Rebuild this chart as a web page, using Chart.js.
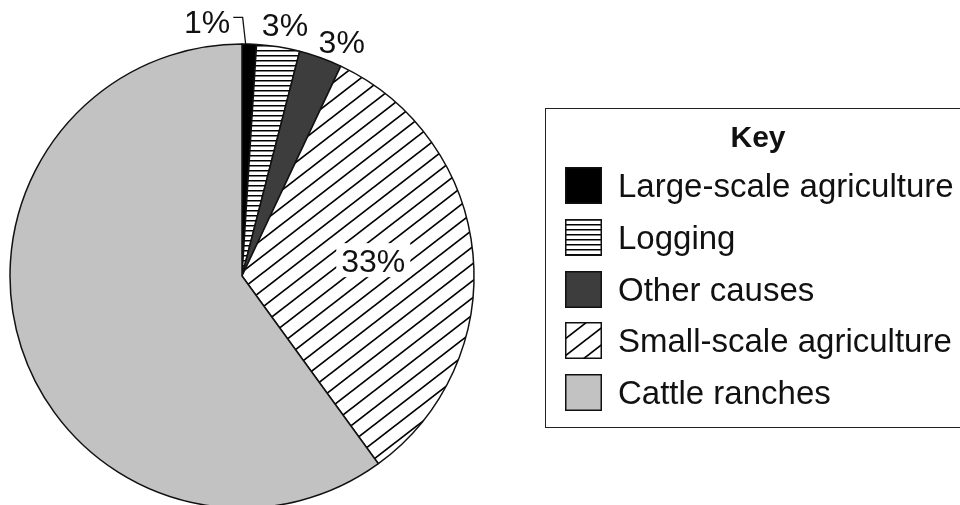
<!DOCTYPE html>
<html>
<head>
<meta charset="utf-8">
<script src="https://cdn.jsdelivr.net/npm/chart.js@4.4.1/dist/chart.umd.min.js"></script>
<style>
  html, body { margin: 0; padding: 0; background: #fff; overflow: hidden; }
  #wrap { position: relative; width: 960px; height: 505px; font-family: "Liberation Sans", Arial, sans-serif; color: #111; }
  #chart { position: absolute; left: 0; top: 0; }
  #key { position: absolute; left: 545px; top: 108px; width: 430px; height: 320px; border: 1.5px solid #222; box-sizing: border-box; }
  #key-title { position: absolute; left: 545px; top: 120px; width: 426px; text-align: center; font-weight: bold; font-size: 30px; line-height: 34px; }
  .row { position: absolute; left: 565px; height: 37px; white-space: nowrap; }
  .row canvas { position: absolute; left: 0; top: 0; }
  .row span { position: absolute; left: 53px; top: 0; font-size: 33px; line-height: 37px; }
</style>
</head>
<body>
<div id="wrap">
  <canvas id="chart" width="960" height="505"></canvas>
  <div id="key"></div>
  <div id="key-title">Key</div>
  <div id="key-rows"></div>
</div>
<script>
// Donnees
const categories = ["Large-scale agriculture", "Logging", "Other causes", "Small-scale agriculture", "Cattle ranches"];
const shares = [1, 3, 3, 33, 60];

// Placement des etiquettes (null = pas d'etiquette)
const labelPlace = [
  { r: 1.108, turn: -9.6, leader: true },
  { r: 1.10, turn: 0.7 },
  { r: 1.10, turn: 3.2 },
  { r: 0.57, turn: -1.5, knockout: true },
  null
];

// ─────────────────────────────
// MOTIFS
// ─────────────────────────────
function solid(color) {
  return color;
}

function horizontalLines(gap) {
  const c = document.createElement("canvas");
  c.width = 8; c.height = gap;
  const g = c.getContext("2d");
  g.fillStyle = "#fff";
  g.fillRect(0, 0, 8, gap);
  g.fillStyle = "#000";
  g.fillRect(0, 0, 8, 1.5);
  return g.createPattern(c, "repeat");
}

function diagonalLines(w, h) {
  const c = document.createElement("canvas");
  c.width = w; c.height = h;
  const g = c.getContext("2d");
  g.fillStyle = "#fff";
  g.fillRect(0, 0, w, h);
  g.strokeStyle = "#000";
  g.lineWidth = 1.7;
  for (let k = -1; k <= 1; k++) {
    g.beginPath();
    g.moveTo(-w, 2 * h + k * h);
    g.lineTo(2 * w, -h + k * h);
    g.stroke();
  }
  return g.createPattern(c, "repeat");
}

const fills = [
  solid("#000"),
  horizontalLines(5),
  solid("#3d3d3d"),
  diagonalLines(22, 17),
  solid("#c2c2c2")
];

// ─────────────────────────────
// ETIQUETTES
// ─────────────────────────────
const pieLabels = {
  id: "pieLabels",
  afterDatasetsDraw(chart) {
    const ctx = chart.ctx;
    const arcs = chart.getDatasetMeta(0).data;
    ctx.save();
    ctx.font = '32px "Liberation Sans", Arial, sans-serif';
    ctx.textAlign = "center";
    ctx.textBaseline = "alphabetic";
    arcs.forEach((arc, i) => {
      const p = labelPlace[i];
      if (!p) return;
      const { x, y, startAngle, endAngle, outerRadius } =
        arc.getProps(["x", "y", "startAngle", "endAngle", "outerRadius"], true);
      const a = (startAngle + endAngle) / 2 + p.turn * Math.PI / 180;
      const lx = x + Math.cos(a) * outerRadius * p.r;
      const ly = y + Math.sin(a) * outerRadius * p.r;
      const text = shares[i] + "%";
      const w = ctx.measureText(text).width;

      if (p.knockout) {
        ctx.fillStyle = "#fff";
        ctx.fillRect(lx - w / 2 - 5, ly - 17, w + 10, 34);
      }
      if (p.leader) {
        const b = startAngle + (endAngle - startAngle) * 0.25;
        const x0 = x + Math.cos(b) * outerRadius;
        const y0 = y + Math.sin(b) * outerRadius;
        ctx.strokeStyle = "#111";
        ctx.lineWidth = 1.3;
        ctx.beginPath();
        ctx.moveTo(x0, y0);
        ctx.lineTo(x0 - 3, ly - 4);
        ctx.lineTo(lx + w / 2 + 3, ly - 4);
        ctx.stroke();
      }
      ctx.fillStyle = "#111";
      ctx.fillText(text, lx, ly + 0.36 * 32);
    });
    ctx.restore();
  }
};

// ─────────────────────────────
// GRAPHIQUE
// ─────────────────────────────
new Chart(document.getElementById("chart").getContext("2d"), {
  type: "pie",
  data: {
    labels: categories,
    datasets: [{
      data: shares,
      backgroundColor: fills,
      borderColor: "#111",
      borderWidth: 1.5,
      radius: 232
    }]
  },
  options: {
    responsive: false,
    animation: false,
    layout: { padding: { left: 10, right: 486, top: 47, bottom: 0 } },
    plugins: {
      legend: { display: false },
      tooltip: { enabled: false }
    }
  },
  plugins: [pieLabels]
});

// ─────────────────────────────
// LEGENDE
// ─────────────────────────────
const rowsBox = document.getElementById("key-rows");
const rowTop = 167, rowStep = 51.75;
categories.forEach((name, i) => {
  const row = document.createElement("div");
  row.className = "row";
  row.style.top = (rowTop + i * rowStep) + "px";
  const sw = document.createElement("canvas");
  sw.width = 37; sw.height = 37;
  const g = sw.getContext("2d");
  g.fillStyle = fills[i];
  g.fillRect(0, 0, 37, 37);
  g.strokeStyle = "#111";
  g.lineWidth = 1.5;
  g.strokeRect(0.75, 0.75, 35.5, 35.5);
  const label = document.createElement("span");
  label.textContent = name;
  row.appendChild(sw);
  row.appendChild(label);
  rowsBox.appendChild(row);
});
</script>
</body>
</html>
